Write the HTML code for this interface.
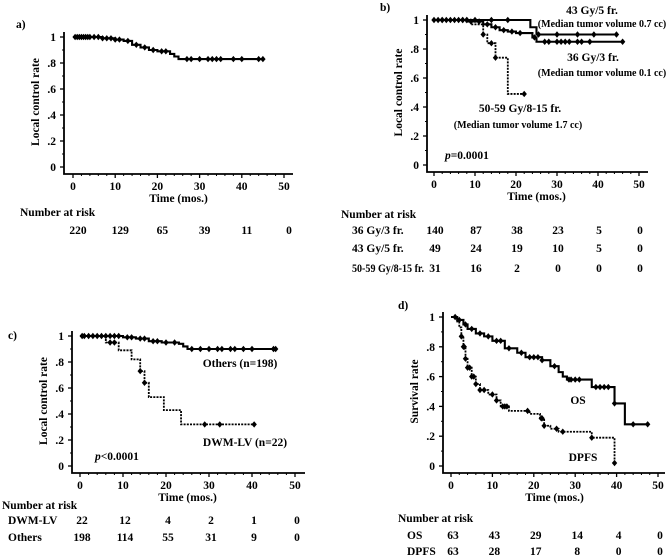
<!DOCTYPE html>
<html><head><meta charset="utf-8">
<style>
html,body{margin:0;padding:0;background:#fff;}
svg{display:block;font-family:"Liberation Serif",serif;font-weight:bold;}
text{fill:#000;}
</style></head>
<body>
<svg id="fig" width="669" height="556" viewBox="0 0 669 556"></svg>
<script>
// ---------- data ----------
const xTicks=[0,10,20,30,40,50];
const yTicks=[0,0.2,0.4,0.6,0.8,1];
const yTickLabels=["0",".2",".4",".6",".8","1"];
// panel a
const aSteps=[[0,1],[7,0.99],[10,0.98],[12,0.97],[14,0.94],[16,0.92],[18,0.90],[20,0.89],[23,0.87],[24,0.85],[25,0.83]];
const aEnd=45;
const aCens=[0.5,1,1.5,2,2.5,3,3.5,4,5,6,7,8,9,10,11,13,15,17,19,21,22,27,28,30,32,33,34,35,38,40,44,45];
const aRisk=[220,129,65,39,11,0];
// panel b
const b36Steps=[[0,1],[8,0.99],[12,0.97],[14,0.95],[16,0.93],[18,0.92],[20,0.91],[24,0.88],[25,0.85]];
const b36End=46;
const b36Cens=[1,2,3,5,7,9,11,13,15,17,19,21,24.5,27,28,30,31,32,33,35,36,38,46];
const b43Steps=[[0,1],[23.5,0.95],[25,0.90]];
const b43End=44.5;
const b43Cens=[0,2,4,6,8,10,14,18,25.5,30,35,39,44.5];
const b50Steps=[[0,1],[9,0.97],[12,0.90],[13,0.84],[15,0.74],[18,0.49]];
const b50End=22;
const b50Cens=[7,8,12,14,15,22];
const bRisk36=[140,87,38,23,5,0];
const bRisk43=[49,24,19,10,5,0];
const bRisk50=[31,16,2,0,0,0];
// panel c
const cOthSteps=[[0,1],[10,0.99],[13,0.98],[16,0.96],[19,0.95],[23,0.94],[24,0.92],[25,0.90]];
const cOthEnd=45.5;
const cOthCens=[0.5,1,2,3,4,5,6,7,8,9,11,12,14,15,17,18,20,22,26,28,30,32,33,35,36,38,40,45,45.5];
const cDwmSteps=[[0,1],[6,0.95],[9,0.89],[12,0.82],[14,0.73],[15,0.64],[16,0.53],[19.5,0.43],[23.5,0.32]];
const cDwmEnd=40.5;
const cDwmCens=[7,8,14,15,29,32.5,40.5];
const cRiskDwm=[22,12,4,2,1,0];
const cRiskOth=[198,114,55,31,9,0];
// panel d
const dOsSteps=[[0,1],[1.5,0.98],[3,0.95],[4,0.92],[6,0.89],[8,0.87],[10,0.84],[13,0.79],[16,0.76],[18,0.73],[22,0.71],[24,0.67],[26,0.63],[27,0.60],[28,0.58],[34,0.53],[39.5,0.42],[42,0.28]];
const dOsEnd=47.5;
const dOsCens=[1,2,3.5,5,7,9,11,12,14,17,19,20,21,22,25,28.5,29,30,31,35,36,37,38,39.5,44,47.5];
const dDpSteps=[[0,1],[1.5,0.97],[2,0.93],[2.5,0.87],[3,0.80],[3.5,0.72],[4,0.66],[5,0.60],[6,0.55],[7,0.51],[9,0.48],[11,0.44],[12,0.40],[14,0.37],[19,0.35],[21.5,0.32],[22.5,0.27],[24,0.25],[26,0.23],[34,0.19],[39.5,0.02]];
const dDpEnd=39.5;
const dDpCens=[2.5,3,3.2,3.5,4,4.5,5,5.5,6,7,8,10,11,12.5,13,13.5,18.5,21.8,22,22.5,25.5,27,34,39.5];
const dRiskOs=[63,43,29,14,4,0];
const dRiskDp=[63,28,17,8,0,0];

// ---------- drawing ----------
const NS="http://www.w3.org/2000/svg";
const svg=document.getElementById('fig');
function mk(tag,attrs,parent){const e=document.createElementNS(NS,tag);for(const k in attrs)e.setAttribute(k,attrs[k]);(parent||svg).appendChild(e);return e;}
function txt(s,x,y,anchor,size,parent,name,italic){
  const t=mk('text',{x:x,y:y,'text-anchor':anchor||'start','font-size':size||11},parent);
  if(italic)t.setAttribute('font-style','italic');
  t.textContent=s;
  
  
  return t;
}
function panel(P){
  const g=mk('g',{});
  
  
  const sx=v=>P.x0+(P.x50-P.x0)*v/50;
  const sy=v=>P.y0+(P.y1-P.y0)*v;
  const ax=mk('path',{d:`M${P.ax},${P.y1-5}V${P.ab}H${P.axEnd}`,stroke:'#000','stroke-width':1.8,fill:'none'},g);
  
  
  yTicks.forEach((v,i)=>{
    mk('line',{x1:P.ax-4,x2:P.ax,y1:sy(v),y2:sy(v),stroke:'#000','stroke-width':1.3},g);
    txt(yTickLabels[i],P.ax-8,sy(v)+4,'end',11.5,g,'y-tick-label');
  });
  for(let v=0.1;v<1;v+=0.2) mk('line',{x1:P.ax-2,x2:P.ax,y1:sy(v),y2:sy(v),stroke:'#000','stroke-width':1},g);
  xTicks.forEach(v=>{
    mk('line',{x1:sx(v),x2:sx(v),y1:P.ab,y2:P.ab+4,stroke:'#000','stroke-width':1.3},g);
    txt(String(v),sx(v),P.ab+16,'middle',11.5,g,'x-tick-label');
  });
  for(let v=2;v<50;v+=2) if(v%10) mk('line',{x1:sx(v),x2:sx(v),y1:P.ab,y2:P.ab+2,stroke:'#000','stroke-width':1},g);
  txt('Time (mos.)',(sx(0)+sx(50))/2,P.ab+28,'middle',11.5,g,'x-axis-title');
  const yt=txt(P.ytitle,0,0,'middle',11.5,g,'y-axis-title');
  yt.setAttribute('transform',`translate(${P.ax-25},${(sy(0)+sy(1))/2}) rotate(-90)`);
  txt(P.letter,P.lx,P.ly,'start',11.5,g,'panel-label');
  P.series.forEach(S=>{
    let d=`M${sx(0)},${sy(S.steps[0][1])}`;
    for(let i=1;i<S.steps.length;i++){d+=`H${sx(S.steps[i][0])}V${sy(S.steps[i][1])}`;}
    d+=`H${sx(S.end)}`;
    const p=mk('path',{d:d,stroke:'#000','stroke-width':S.dash?1.8:2.1,fill:'none'},g);
    if(S.dash)p.setAttribute('stroke-dasharray','2,1.2');
    
    
    S.cens.forEach(t=>{
      let s=S.steps[0][1];
      S.steps.forEach(st=>{if(st[0]<=t)s=st[1];});
      const x=sx(t),y=sy(s);
      const m=mk('path',{d:`M${x},${y-3.2}L${x+2.7},${y}L${x},${y+3.2}L${x-2.7},${y}Z`,fill:'#000'},g);
      
      
    });
  });
  txt('Number at risk',P.nrx,P.nry,'start',11.5,g,'number-at-risk-title');
  P.risk.forEach(R=>{
    if(R.label){const l=txt(R.label,P.rlx,R.y,'start',11.5,g,'risk-row-label');
      if(R.len){l.setAttribute('textLength',R.len);l.setAttribute('lengthAdjust','spacingAndGlyphs');}}
    R.vals.forEach((v,i)=>txt(String(v),sx(xTicks[i])+R.off,R.y,'middle',11.5,g,'risk-count'));
  });
  (P.notes||[]).forEach(n=>txt(n[0],n[1],n[2],n[3],n[4]||11.5,g,n[5],n[6]));
  return g;
}

panel({name:'panel-a',letter:'a)',lx:16,ly:28,x0:73,x50:284,y1:37,y0:167,ax:64,ab:174,axEnd:293,
  ytitle:'Local control rate',nrx:20,nry:216,rlx:0,
  series:[{name:'local-control',steps:aSteps,end:aEnd,cens:aCens}],
  risk:[{vals:aRisk,y:234,off:5}]});

panel({name:'panel-b',letter:'b)',lx:380,ly:11,x0:434,x50:639,y1:20,y0:165,ax:427,ab:172,axEnd:648,
  ytitle:'Local control rate',nrx:341,nry:218,rlx:352,
  series:[{name:'36gy-3fr',steps:b36Steps,end:b36End,cens:b36Cens},
          {name:'43gy-5fr',steps:b43Steps,end:b43End,cens:b43Cens},
          {name:'50-59gy',steps:b50Steps,end:b50End,cens:b50Cens,dash:true}],
  risk:[{label:'36 Gy/3 fr.',vals:bRisk36,y:234,off:1},{label:'43 Gy/5 fr.',vals:bRisk43,y:252,off:1},{label:'50-59 Gy/8-15 fr.',vals:bRisk50,y:272,off:1,len:72}],
  notes:[['43 Gy/5 fr.',592,14,'middle',11.5,'legend-43gy'],['(Median tumor volume 0.7 cc)',602,27,'middle',10,'legend-43gy-volume'],
         ['36 Gy/3 fr.',593,61,'middle',11.5,'legend-36gy'],['(Median tumor volume 0.1 cc)',602,76,'middle',10,'legend-36gy-volume'],
         ['50-59 Gy/8-15 fr.',520,112,'middle',11.5,'legend-50-59gy'],['(Median tumor volume 1.7 cc)',518,128,'middle',10,'legend-50-59gy-volume']]});

panel({name:'panel-c',letter:'c)',lx:8,ly:339,x0:80,x50:295,y1:336,y0:466,ax:72,ab:473,axEnd:305,
  ytitle:'Local control rate',nrx:2,nry:509,rlx:8,
  series:[{name:'others',steps:cOthSteps,end:cOthEnd,cens:cOthCens},
          {name:'dwm-lv',steps:cDwmSteps,end:cDwmEnd,cens:cDwmCens,dash:true}],
  risk:[{label:'DWM-LV',vals:cRiskDwm,y:524,off:2},{label:'Others',vals:cRiskOth,y:541,off:2}],
  notes:[['Others (n=198)',240,367,'middle',11.5,'legend-others'],['DWM-LV (n=22)',245,446,'middle',11.5,'legend-dwm-lv']]});

panel({name:'panel-d',letter:'d)',lx:398,ly:309,x0:451,x50:658,y1:317,y0:466,ax:443,ab:473,axEnd:665,
  ytitle:'Survival rate',nrx:398,nry:522,rlx:407,
  series:[{name:'os',steps:dOsSteps,end:dOsEnd,cens:dOsCens},
          {name:'dpfs',steps:dDpSteps,end:dDpEnd,cens:dDpCens,dash:true}],
  risk:[{label:'OS',vals:dRiskOs,y:539,off:2},{label:'DPFS',vals:dRiskDp,y:555,off:2}],
  notes:[['OS',578,404,'middle',11.5,'legend-os'],['DPFS',583,461,'middle',11.5,'legend-dpfs']]});

const pb=document.createElementNS(NS,'text');
pb.setAttribute('x',445);pb.setAttribute('y',159);pb.setAttribute('font-size',11.5);
pb.innerHTML='<tspan font-style="italic">p</tspan>=0.0001';


svg.appendChild(pb);
const pc=document.createElementNS(NS,'text');
pc.setAttribute('x',95);pc.setAttribute('y',460);pc.setAttribute('font-size',11.5);
pc.innerHTML='<tspan font-style="italic">p</tspan>&lt;0.0001';


svg.appendChild(pc);
</script>
</body></html>
